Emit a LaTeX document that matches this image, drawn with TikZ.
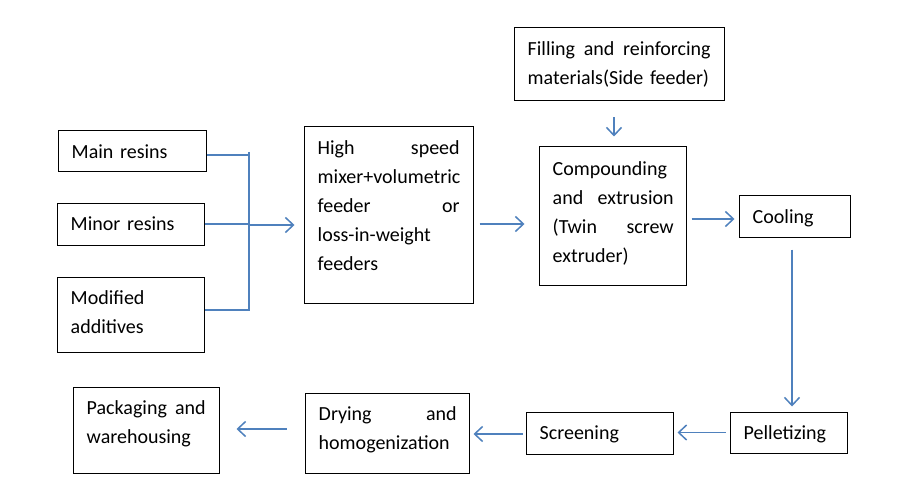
\documentclass[tikz,border=0pt]{standalone}
\usepackage{fontspec}
\setmainfont{Carlito}[WordSpace=0.6]
\usetikzlibrary{arrows.meta}
\definecolor{arrowblue}{RGB}{79,129,189}
\newcommand{\fstrut}{\rule{0pt}{16pt}}
\tikzset{
  procbox/.style={draw=black, line width=1pt, inner sep=0pt},
  boxtext/.style={anchor=north west, inner xsep=14pt, inner ysep=12pt,
    align=left, font=\fontsize{20}{29}\selectfont},
  conn/.style={draw=arrowblue, line width=1.5pt},
  arr/.style={conn, -{Straight Barb[length=8pt, width=15pt, line width=1.5pt]}},
}
\begin{document}
\begin{tikzpicture}[x=1pt, y=-1pt]
\fill[white] (0,0) rectangle (900,500);
\useasboundingbox (0,0) rectangle (900,500);

% boxes
\node[procbox, minimum width=148pt, minimum height=41pt] (main) at (132,151.5) {};
\node[procbox, minimum width=147pt, minimum height=42pt] (minor) at (130.5,224) {};
\node[procbox, minimum width=147pt, minimum height=75pt] (modif) at (130.5,314.5) {};
\node[procbox, minimum width=169pt, minimum height=176pt] (hs) at (388.5,215) {};
\node[procbox, minimum width=210pt, minimum height=73pt] (fill) at (619,64.5) {};
\node[procbox, minimum width=147pt, minimum height=138pt] (comp) at (612.5,216) {};
\node[procbox, minimum width=111pt, minimum height=41pt] (cool) at (794.5,216.5) {};
\node[procbox, minimum width=117pt, minimum height=41pt] (pel) at (788.5,432.5) {};
\node[procbox, minimum width=147pt, minimum height=42pt] (scr) at (599.5,433) {};
\node[procbox, minimum width=164pt, minimum height=80pt] (dry) at (387,433) {};
\node[procbox, minimum width=146pt, minimum height=86pt] (pack) at (146,430) {};

% texts
\node[boxtext, text width=121pt] (tmain) at (main.north west) {\fstrut Main resins};
\node[boxtext, text width=120pt] (tminor) at (minor.north west) {\fstrut Minor resins};
\node[boxtext, text width=120pt] (tmodif) at (modif.north west) {\fstrut Modified\\ additives};
\node[boxtext, text width=142pt] (ths) at (hs.north west) {\fstrut High\hfill speed\\ mixer+volumetric\\ feeder\hfill or\\ loss-in-weight\\ feeders};
\node[boxtext, text width=183pt] (tfill) at (fill.north west) {\fstrut Filling\hfill and\hfill reinforcing\\ materials(Side feeder)};
\node[boxtext, text width=121pt, inner ysep=13pt] (tcomp) at (comp.north west) {\fstrut Compounding\\ and\hfill extrusion\\ (Twin\hfill screw\\ extruder)};
\node[boxtext, text width=84pt] (tcool) at (cool.north west) {\fstrut Cooling};
\node[boxtext, text width=90pt] (tpel) at (pel.north west) {\fstrut Pelletizing};
\node[boxtext, text width=120pt] (tscr) at (scr.north west) {\fstrut Screening};
\node[boxtext, text width=138pt] (tdry) at (dry.north west) {\fstrut Drying\hfill and\\ homogenization};
\node[boxtext, text width=119pt] (tpack) at (pack.north west) {\fstrut Packaging\hfill and\\ warehousing};

% bus bracket
\coordinate (bustop) at (249,152);
\coordinate (busmid) at (249,225);
\draw[conn] ([yshift=-3.5pt]main.east) -| (bustop);
\draw[conn] (bustop) |- ([yshift=4.5pt]modif.east);
\draw[conn] (minor.east) -- (minor.east -| bustop);
\draw[arr, shorten >=9pt] (busmid) -- (busmid -| hs.west);

% flow arrows
\draw[arr, shorten <=6pt, shorten >=14pt] ([yshift=-9pt]hs.east) -- ([yshift=-9pt]hs.east -| comp.west);
\draw[arr, shorten <=16pt, shorten >=10pt] ([xshift=-5pt]fill.south) -- ([xshift=-5pt]fill.south |- comp.north);
\draw[arr, shorten <=5pt, shorten >=4pt] ([yshift=-3pt]comp.east) -- ([yshift=-3pt]comp.east -| cool.west);
\draw[arr, shorten <=12pt, shorten >=5pt] ([xshift=-2.5pt]cool.south) -- ([xshift=-2.5pt]cool.south |- pel.north);
\draw[arr, shorten <=4pt, shorten >=4pt] (pel.west) -- (pel.west -| scr.east);
\draw[arr, shorten <=3pt, shorten >=4pt] ([yshift=-1pt]scr.west) -- ([yshift=-1pt]scr.west -| dry.east);
\draw[arr, shorten <=18pt, shorten >=17pt] ([yshift=4pt]dry.west) -- ([yshift=4pt]dry.west -| pack.east);
\end{tikzpicture}
\end{document}
